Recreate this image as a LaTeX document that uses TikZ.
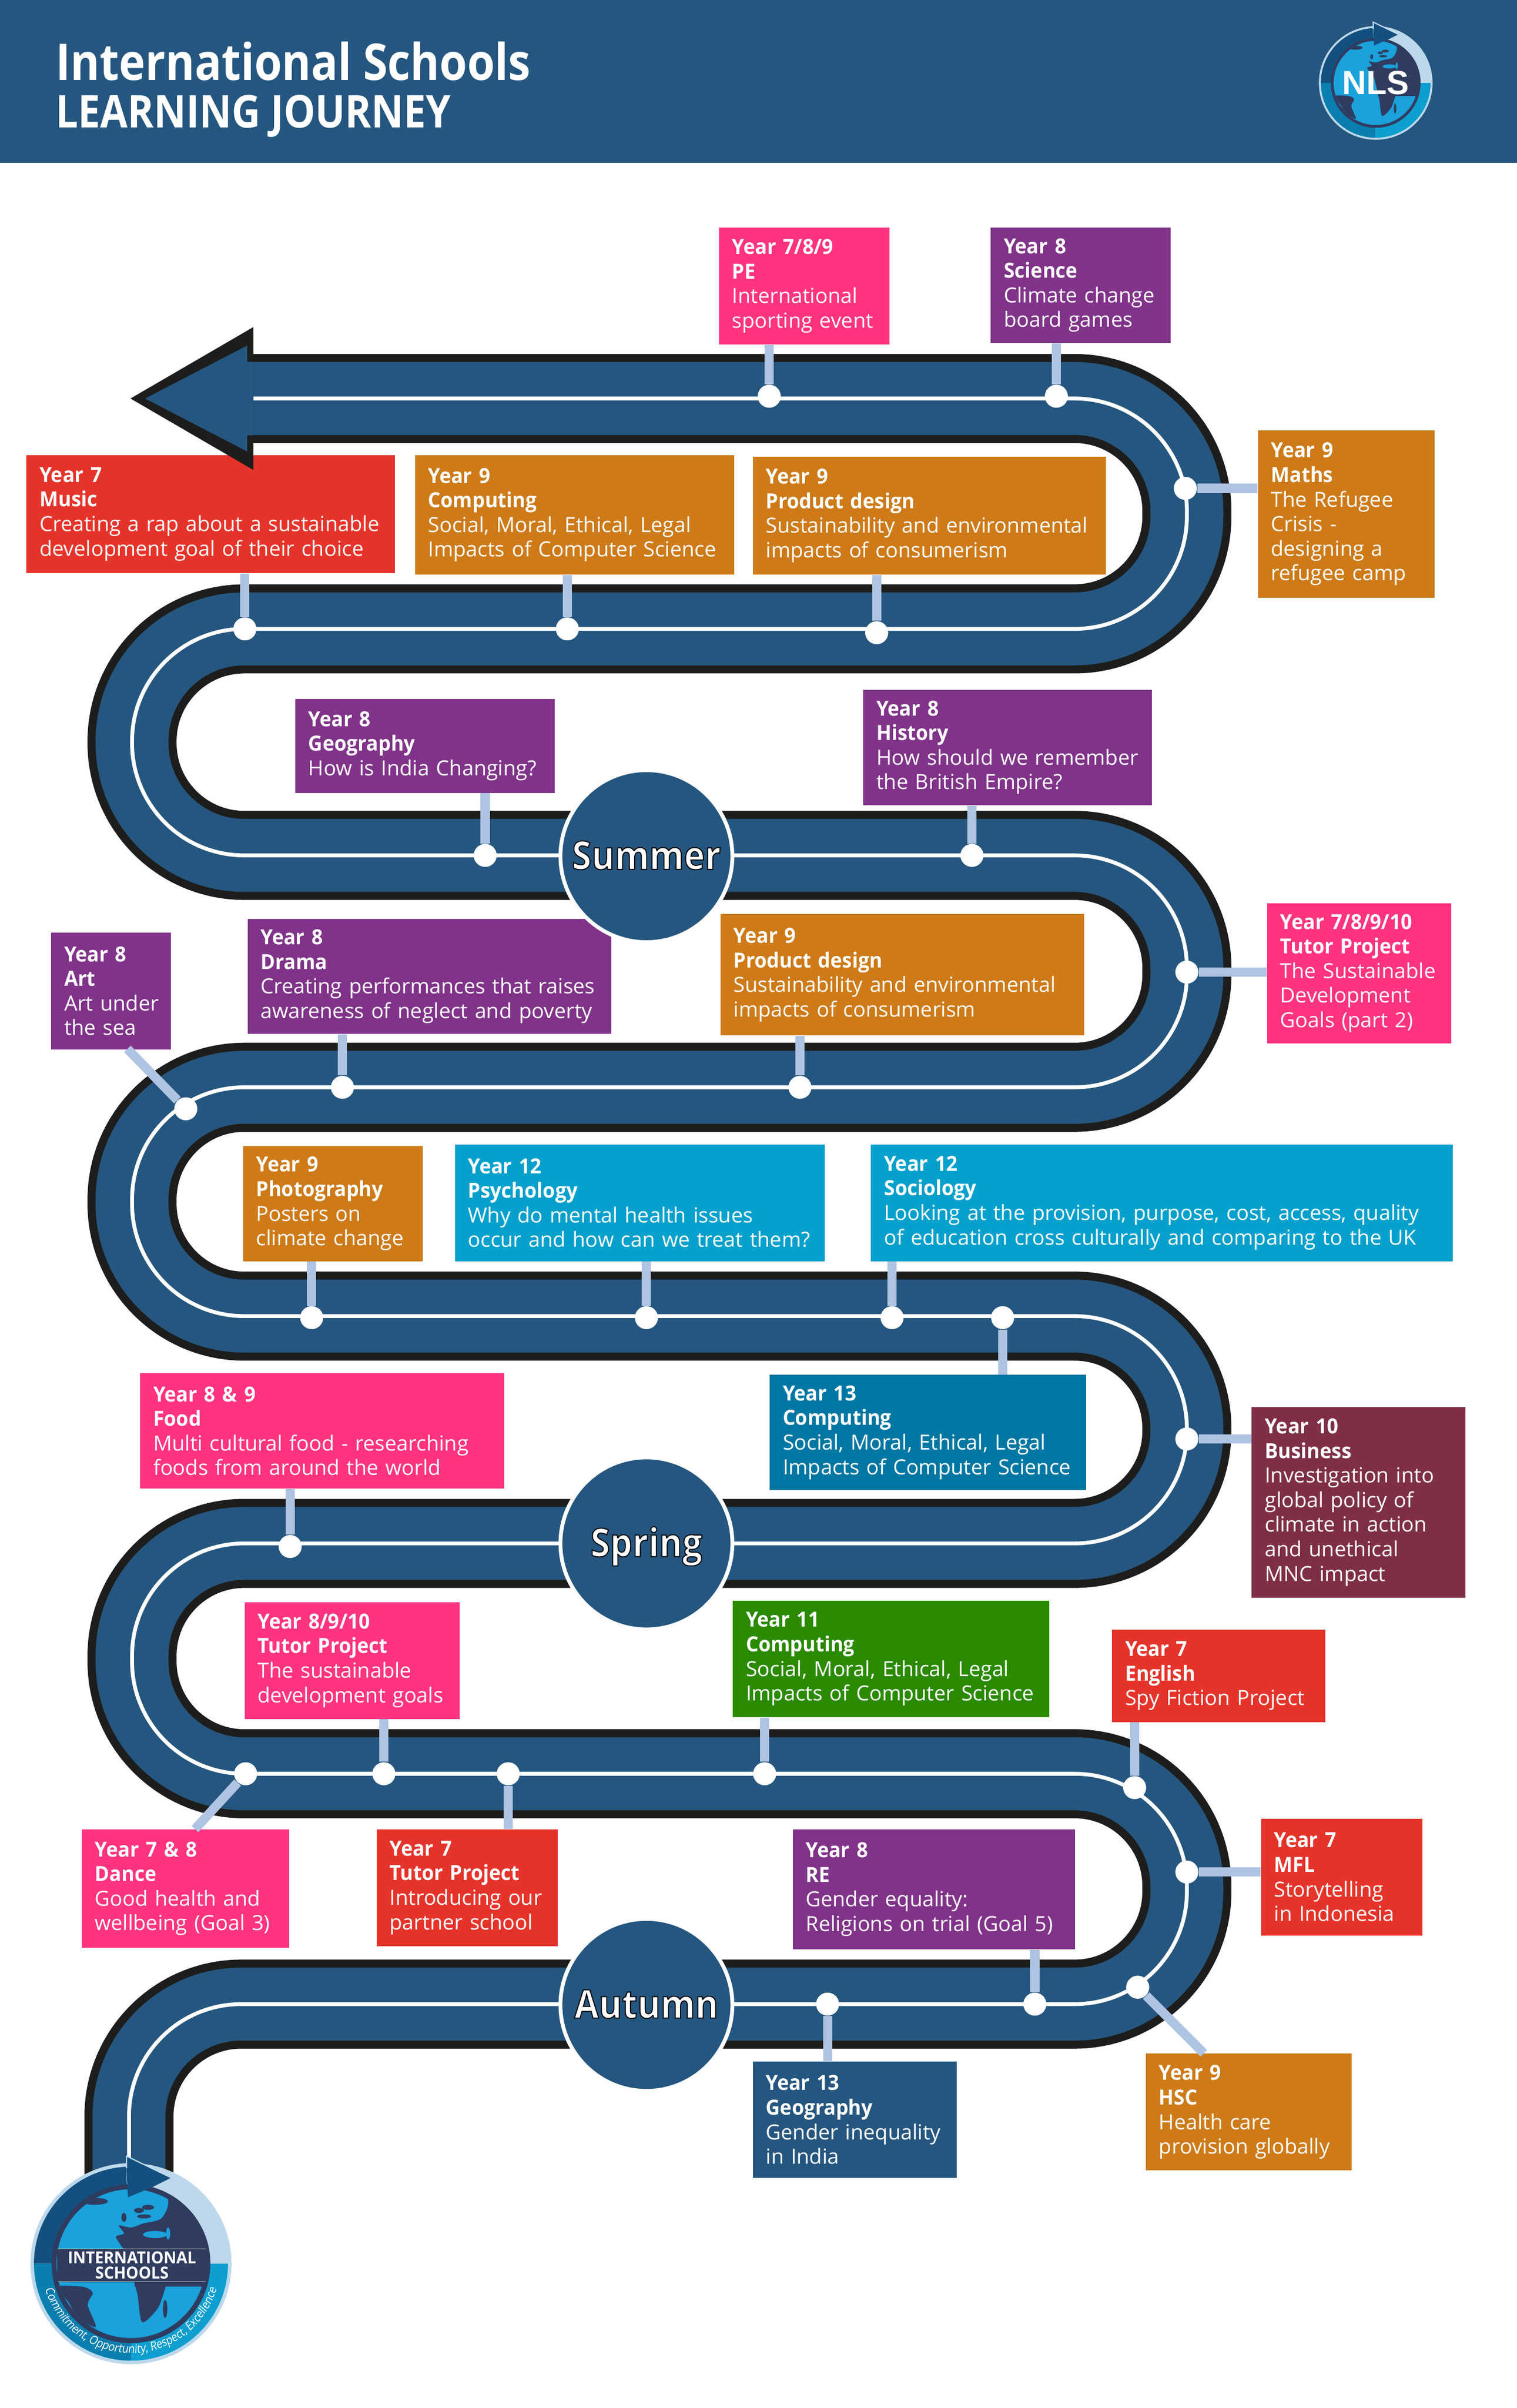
\documentclass[tikz,border=0pt]{standalone}
\usepackage{fontspec}
\setmainfont[BoldFeatures={FakeStretch=0.95}]{Open Sans}
\newfontfamily\seasonfont[BoldFeatures={FakeStretch=0.9}]{Open Sans}
\newfontfamily\titlefont[FakeStretch=0.88]{Open Sans}
\newfontfamily\mottofont[FakeStretch=0.88,FakeSlant=0.12]{Open Sans}
\usetikzlibrary{decorations.text}

\definecolor{roadblue}{HTML}{25567F}
\definecolor{roadedge}{HTML}{1D1D1B}
\definecolor{linkblue}{HTML}{AFC3E3}
\definecolor{cardpink}{HTML}{FF337F}
\definecolor{cardpurple}{HTML}{803389}
\definecolor{cardorange}{HTML}{CE7A18}
\definecolor{cardred}{HTML}{E6332A}
\definecolor{cardcyan}{HTML}{06A0CC}
\definecolor{cardteal}{HTML}{0077A3}
\definecolor{cardgreen}{HTML}{2A8A00}
\definecolor{cardmaroon}{HTML}{7F2F45}
\definecolor{logodark}{HTML}{14507F}
\definecolor{logolight}{HTML}{BDD8EB}
\definecolor{logoteal}{HTML}{0A7FAF}
\definecolor{logocyan}{HTML}{0D9FD0}
\definecolor{logonavy}{HTML}{2F3C60}
\definecolor{logosky}{HTML}{1BA1DB}

\def\unit{0.7591}

\tikzset{
  road/.style={draw=roadedge,line width=58*\unit pt,rounded corners=55.5pt,line join=round,
    postaction={draw=roadblue,line width=47.5*\unit pt},
    postaction={draw=white,line width=2.5*\unit pt}},
  card/.style n args={3}{rectangle,anchor=north west,fill=#3,text=white,
    font=\fontsize{10.3}{12.15}\selectfont,align=left,inner xsep=0pt,inner ysep=0pt,
    minimum width=#1*\unit pt,minimum height=#2*\unit pt,text width=#1*\unit pt,
    execute at begin node={\leftskip=6.5pt\relax},
    execute at end node={\par\vskip-2.5pt}},
  stopdot/.style={circle,fill=white,inner sep=0pt,minimum size=15*\unit pt},
  link/.style={draw=linkblue,line width=6*\unit pt},
  season/.style={circle,fill=roadblue,draw=white,text=white,line width=2.5*\unit pt,
    minimum size=112*\unit pt,inner sep=0pt,text height=17pt,text depth=4pt,
    font=\fontsize{19.4}{19.4}\selectfont}
}

\newcommand{\cardhead}[2]{\textbf{#1}\\\textbf{#2}\\}
\newcommand{\seasontext}[1]{\special{pdf:code 2 Tr 0.5 w 0 0 0 RG}{\seasonfont\bfseries #1}\special{pdf:code 0 Tr}}

% globe badge, radius 1
\newcommand{\globemark}{
  \fill[logolight] (0,0) circle (1);
  \fill[logodark] (0,0) -- (180:.965) arc[start angle=180,end angle=93,radius=.965] -- cycle;
  \fill[logoteal] (0,0) -- (180:.965) arc[start angle=180,end angle=270,radius=.965] -- cycle;
  \fill[logocyan] (0,0) -- (270:.965) arc[start angle=270,end angle=360,radius=.965] -- cycle;
  \fill[logonavy] (0,0) circle (.79);
  \begin{scope}
    \clip (0,0) circle (.74);
    \fill[logosky] plot[smooth cycle,tension=.5] coordinates {(-.9,.18) (-.75,.5) (-.47,.85) (-.03,.9)
      (.25,.85) (.37,.62) (.30,.45) (.12,.40) (.0,.36) (-.12,.38) (-.07,.30) (-.15,.27)
      (-.10,.18) (-.02,.05) (-.02,-.35) (-.9,-.35)};
    \fill[logonavy] (-.36,.62) ellipse (.13 and .035);
    \fill[logonavy] (.08,.53) ellipse (.05 and .025);
    \fill[logonavy] (.17,.56) ellipse (.06 and .025);
    \fill[logonavy] (.13,.47) ellipse (.07 and .02);
    \fill[logonavy] (-.07,.46) ellipse (.025 and .045);
    \fill[logosky] (.24,.29) ellipse (.12 and .035);
    \fill[logosky] (.37,.30) ellipse (.02 and .06);
    \fill[logosky] (-1,-1) rectangle (1,-.23);
    \fill[logonavy] plot[smooth cycle,tension=.5] coordinates {(-.75,-.23) (-.48,-.23) (-.38,-.29)
      (-.43,-.41) (-.35,-.63) (-.53,-.53) (-.63,-.37)};
    \fill[logonavy] plot[smooth cycle,tension=.5] coordinates {(.05,-.1) (.35,-.1) (.30,-.37) (.23,-.49)
      (.11,-.58) (.07,-.34)};
    \fill[logonavy] (.34,-.45) ellipse (.022 and .09);
  \end{scope}
  \fill[logodark] (-.045,.93) -- (-.045,1.07) -- (.40,.855) -- (.21,.76) -- (-.03,.66) -- cycle;
  \draw[logolight,line width=.6pt] (-.045,.95) -- (-.045,1.07) -- (.40,.855);
}

\begin{document}
\begin{tikzpicture}[x=\unit pt,y=-\unit pt]
  \useasboundingbox (0,0) rectangle (988,1568);

  % banner
  \fill[roadblue] (0,0) rectangle (988,106);
  \node[anchor=west,text=white,inner sep=0pt,font=\titlefont\fontsize{25}{25}\selectfont\bfseries] (title) at (36,40) {International Schools};
  \node[anchor=west,text=white,inner sep=0pt,font=\titlefont\fontsize{22.3}{22.3}\selectfont\bfseries] (subtitle) at (36,75.5) {LEARNING JOURNEY};

  % the road
  \path[road] (165,259.5) -- (773,259.5) -- (773,409.5) -- (86,409.5) -- (86,557) -- (773,557)
    -- (773,708) -- (86,708) -- (86,857) -- (773,857) -- (773,1005) -- (86,1005)
    -- (86,1155) -- (773,1155) -- (773,1305) -- (84,1305) -- (84,1450);

  % summer term
  \node[card={111}{76}{cardpink}] (pe) at (468,148) {\cardhead{Year 7/8/9}{PE}International\\sporting event};
  \node[stopdot] (pestop) at (501,258) {};
  \draw[link] (pestop) -- (pestop |- pe.south);

  \node[card={117}{75}{cardpurple}] (science) at (645,148) {\cardhead{Year 8}{Science}Climate change\\board games};
  \node[stopdot] (sciencestop) at (688,258) {};
  \draw[link] (sciencestop) -- (sciencestop |- science.south);

  \node[card={115}{109}{cardorange}] (maths) at (819,280) {\cardhead{Year 9}{Maths}The Refugee\\Crisis -\\designing a\\refugee camp};
  \node[stopdot] (mathsstop) at (772,318) {};
  \draw[link] (mathsstop) -- (mathsstop -| maths.west);

  \node[card={240}{77}{cardred}] (music) at (17,296) {\cardhead{Year 7}{Music}Creating a rap about a sustainable\\development goal of their choice};
  \node[stopdot] (musicstop) at (159.5,409.5) {};
  \draw[link] (musicstop) -- (musicstop |- music.south);

  \node[card={208}{78}{cardorange}] (computing) at (270,296) {\cardhead{Year 9}{Computing}Social, Moral, Ethical, Legal\\Impacts of Computer Science};
  \node[stopdot] (computingstop) at (369.5,409.5) {};
  \draw[link] (computingstop) -- (computingstop |- computing.south);

  \node[card={230}{77}{cardorange}] (design) at (490,297) {\cardhead{Year 9}{Product design}Sustainability and environmental\\impacts of consumerism};
  \node[stopdot] (designstop) at (571,412) {};
  \draw[link] (designstop) -- (designstop |- design.south);

  % arrow head lies over the music card
  \fill[roadedge] (85,259.5) -- (165,213) -- (165,306) -- cycle;
  \fill[roadblue] (94.5,259.5) -- (161,225) -- (161,235.6) -- (165,235.6) -- (165,283.4) -- (161,283.4) -- (161,294) -- cycle;

  \node[card={169}{61}{cardpurple}] (geography) at (192,455) {\cardhead{Year 8}{Geography}How is India Changing?};
  \node[stopdot] (geographystop) at (316,557) {};
  \draw[link] (geographystop) -- (geographystop |- geography.south);

  \node[card={188}{75}{cardpurple}] (history) at (562,449) {\cardhead{Year 8}{History}How should we remember\\the British Empire?};
  \node[stopdot] (historystop) at (633,557) {};
  \draw[link] (historystop) -- (historystop |- history.south);

  \node[card={120}{91}{cardpink}] (goals) at (825,588) {\cardhead{Year 7/8/9/10}{Tutor Project}The Sustainable\\Development\\Goals (part 2)};
  \node[stopdot] (goalsstop) at (773,633) {};
  \draw[link] (goalsstop) -- (goalsstop -| goals.west);

  \node[card={237}{75}{cardpurple}] (drama) at (161,598) {\cardhead{Year 8}{Drama}Creating performances that raises\\awareness of neglect and poverty};
  \node[stopdot] (dramastop) at (223,708) {};
  \draw[link] (dramastop) -- (dramastop |- drama.south);

  \node[card={237}{79}{cardorange}] (designb) at (469,595) {\cardhead{Year 9}{Product design}Sustainability and environmental\\impacts of consumerism};
  \node[stopdot] (designbstop) at (521,708) {};
  \draw[link] (designbstop) -- (designbstop |- designb.south);

  \node[card={78}{76}{cardpurple}] (art) at (33,607) {\cardhead{Year 8}{Art}Art under\\the sea};
  \node[stopdot] (artstop) at (121,722) {};
  \coordinate (artfoot) at (83,683);
  \draw[link] (artstop) -- (artfoot);

  % spring term
  \node[card={117}{75}{cardorange}] (photo) at (158,746) {\cardhead{Year 9}{Photography}Posters on\\climate change};
  \node[stopdot] (photostop) at (203,858) {};
  \draw[link] (photostop) -- (photostop |- photo.south);

  \node[card={241}{76}{cardcyan}] (psychology) at (296,745) {\cardhead{Year 12}{Psychology}Why do mental health issues\\occur and how can we treat them?};
  \node[stopdot] (psychologystop) at (421,858) {};
  \draw[link] (psychologystop) -- (psychologystop |- psychology.south);

  \node[card={379}{76}{cardcyan}] (sociology) at (567,745) {\cardhead{Year 12}{Sociology}Looking at the provision, purpose, cost, access, quality\\of education cross culturally and comparing to the UK};
  \node[stopdot] (sociologystop) at (581,858) {};
  \draw[link] (sociologystop) -- (sociologystop |- sociology.south);

  \node[card={206}{75}{cardteal}] (computingb) at (501,895) {\cardhead{Year 13}{Computing}Social, Moral, Ethical, Legal\\Impacts of Computer Science};
  \node[stopdot] (computingbstop) at (653,858) {};
  \draw[link] (computingbstop) -- (computingbstop |- computingb.north);

  \node[card={237}{75}{cardpink}] (food) at (91,894) {\cardhead{Year 8 \& 9}{Food}Multi cultural food - researching\\foods from around the world};
  \node[stopdot] (foodstop) at (189,1007) {};
  \draw[link] (foodstop) -- (foodstop |- food.south);

  \node[card={139}{124}{cardmaroon}] (business) at (815,916) {\cardhead{Year 10}{Business}Investigation into\\global policy of\\climate in action\\and unethical\\MNC impact};
  \node[stopdot] (businessstop) at (773,937) {};
  \draw[link] (businessstop) -- (businessstop -| business.west);

  \node[card={140}{76}{cardpink}] (tutor) at (159,1043) {\cardhead{Year 8/9/10}{Tutor Project}The sustainable\\development goals};
  \node[stopdot] (tutorstop) at (250,1155) {};
  \draw[link] (tutorstop) -- (tutorstop |- tutor.south);

  \node[card={206}{76}{cardgreen}] (computingc) at (477,1042) {\cardhead{Year 11}{Computing}Social, Moral, Ethical, Legal\\Impacts of Computer Science};
  \node[stopdot] (computingcstop) at (498,1155) {};
  \draw[link] (computingcstop) -- (computingcstop |- computingc.south);

  % autumn term
  \node[card={139}{60}{cardred}] (english) at (724,1061) {\cardhead{Year 7}{English}Spy Fiction Project};
  \node[stopdot] (englishstop) at (739,1164) {};
  \draw[link] (englishstop) -- (englishstop |- english.south);

  \node[card={105}{76}{cardred}] (mfl) at (821,1184) {\cardhead{Year 7}{MFL}Storytelling\\in Indonesia};
  \node[stopdot] (mflstop) at (773,1219) {};
  \draw[link] (mflstop) -- (mflstop -| mfl.west);

  \node[card={135}{77}{cardpink}] (dance) at (53,1191) {\cardhead{Year 7 \& 8}{Dance}Good health and\\wellbeing (Goal 3)};
  \node[stopdot] (dancestop) at (160,1155) {};
  \coordinate (dancefoot) at (127,1191);
  \draw[link] (dancestop) -- (dancefoot);

  \node[card={118}{76}{cardred}] (partner) at (245,1191) {\cardhead{Year 7}{Tutor Project}Introducing our\\partner school};
  \node[stopdot] (partnerstop) at (331,1155) {};
  \draw[link] (partnerstop) -- (partnerstop |- partner.north);

  \node[card={184}{78}{cardpurple}] (re) at (516,1191) {\cardhead{Year 8}{RE}Gender equality:\\Religions on trial (Goal 5)};
  \node[stopdot] (restop) at (674,1305) {};
  \draw[link] (restop) -- (restop |- re.south);

  \node[card={134}{76}{cardorange}] (hsc) at (746,1337) {\cardhead{Year 9}{HSC}Health care\\provision globally};
  \node[stopdot] (hscstop) at (741,1294) {};
  \coordinate (hschead) at (784,1337);
  \draw[link] (hscstop) -- (hschead);

  \node[card={133}{76}{roadblue}] (geographyb) at (490,1342) {\cardhead{Year 13}{Geography}Gender inequality\\in India};
  \node[stopdot] (geographybstop) at (539,1305) {};
  \draw[link] (geographybstop) -- (geographybstop |- geographyb.north);

  % seasons
  \node[season] (summer) at (421,557.5) {\seasontext{Summer}};
  \node[season] (spring) at (421,1005) {\seasontext{Spring}};
  \node[season] (autumn) at (421,1305.5) {\seasontext{Autumn}};

  % badges
  \begin{scope}[shift={(896,54)},x=28.1pt,y=28.1pt]
    \globemark
    \node[text=white,inner sep=0pt,font=\fontspec{Liberation Sans}\fontsize{16.5}{16.5}\selectfont\bfseries] (nls) at (0,0) {NLS};
  \end{scope}

  \begin{scope}[shift={(85.3,1474)},x=49.7pt,y=49.7pt]
    \globemark
    \fill[logonavy] (-.735,.146) rectangle (.745,-.18);
    \draw[white,line width=.25pt] (-.725,.146) -- (.745,.146);
    \draw[white,line width=.25pt] (-.725,-.18) -- (.745,-.18);
    \node[text=white,inner sep=0pt,align=center,font=\fontsize{8.2}{7.4}\selectfont\bfseries] (badge) at (.01,-.015) {INTERNATIONAL\\SCHOOLS};
    \path[decorate,decoration={text along path,text align=center,
      text={|\mottofont\fontsize{5.9}{5.9}\selectfont\color{white}|Commitment, Opportunity, Respect, Excellence}}]
      (185:.89) arc[start angle=185,end angle=355,radius=.89];
  \end{scope}
\end{tikzpicture}
\end{document}
